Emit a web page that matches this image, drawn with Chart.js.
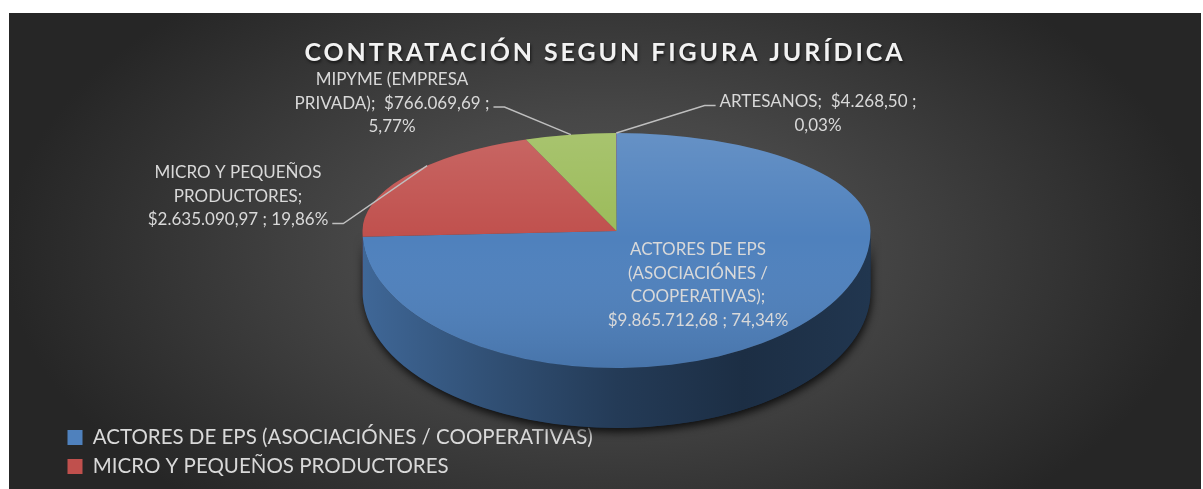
<!DOCTYPE html>
<html><head><meta charset="utf-8">
<script src="https://cdn.jsdelivr.net/npm/chart.js@4.4.1/dist/chart.umd.min.js"></script>
<style>
html,body{margin:0;padding:0;background:#fff;}
#wrap{position:absolute;left:9px;top:13px;width:1192px;height:476px;
 background: radial-gradient(600px 340px at 50% 50%, #565656 0%, #474747 40%, #262626 100%);}
canvas{display:block;}
</style></head><body>
<div id="wrap"><canvas id="c" width="1192" height="476"></canvas></div>
<script>
// ---- data ----
const chartTitle = 'CONTRATACIÓN SEGUN FIGURA JURÍDICA';
const categories = ['ACTORES DE EPS (ASOCIACIÓNES / COOPERATIVAS)', 'MICRO Y PEQUEÑOS PRODUCTORES', 'MIPYME (EMPRESA PRIVADA)', 'ARTESANOS'];
const amounts = [9865712.68, 2635090.97, 766069.69, 4268.50];
const sliceColors = ['#4F81BD', '#C0504D', '#9BBB59', '#8064A2'];
const legendShownCount = 2; // the original legend is cut off after two entries

// ---- layout ----
const PIE = { cx: 607.5, cy: 218, rx: 254, ryBack: 98, ryFront: 137, depth: 60 };
const LABEL_FONT = '17px Lato';
const LABEL_LINE = 23.5;
const WRAP_WIDTH = 200;
const labelPlacement = [
  { x: 689, y: 237, leader: false },
  { x: 229, y: 160, leader: true, side: 'left' },
  { x: 383, y: 67, leader: true, side: 'left' },
  { x: 809, y: 89, leader: true, side: 'right' }
];

function fmtMoney(v) {
  const [i, d] = v.toFixed(2).split('.');
  return '$' + i.replace(/\B(?=(\d{3})+(?!\d))/g, '.') + ',' + d;
}
function fmtPct(f) { return (f * 100).toFixed(2).replace('.', ',') + '%'; }
function shade(hex, f) {
  const n = parseInt(hex.slice(1), 16);
  const r = (n >> 16) & 255, g = (n >> 8) & 255, b = n & 255;
  return `rgb(${Math.round(r * f)},${Math.round(g * f)},${Math.round(b * f)})`;
}
function wrapText(ctx, text, maxW) {
  const words = text.split(' ');
  const lines = [];
  let line = '';
  words.forEach(w => {
    const test = line === '' ? w : line + ' ' + w;
    if (line !== '' && w !== '' && ctx.measureText(test.trim()).width > maxW) {
      lines.push(line.trim());
      line = w;
    } else line = test;
  });
  if (line.trim()) lines.push(line.trim());
  return lines;
}
function frontSegments(s, e) {
  const out = [];
  for (let k = -2; k <= 2; k++) {
    const lo = 2 * Math.PI * k, hi = lo + Math.PI;
    const a = Math.max(s, lo), b = Math.min(e, hi);
    if (b > a) out.push([a - lo, b - lo]);
  }
  return out;
}
// perspective: the far half of the top face is flatter than the near half
function ryAt(t) { return Math.sin(t) < 0 ? PIE.ryBack : PIE.ryFront; }
function facePoint(t, R) { return [PIE.cx + R * Math.cos(t), PIE.cy + ryAt(t) * Math.sin(t)]; }
function arcMidParam(s, e, R) {
  const N = 400, f = t => Math.hypot(R * Math.sin(t), ryAt(t) * Math.cos(t));
  const cum = [0];
  let tot = 0;
  for (let k = 0; k < N; k++) { tot += f(s + (e - s) * (k + 0.5) / N); cum.push(tot); }
  const half = tot / 2;
  for (let k = 0; k < N; k++) {
    if (cum[k + 1] >= half) return s + (e - s) * (k + (half - cum[k]) / (cum[k + 1] - cum[k])) / N;
  }
  return (s + e) / 2;
}
function facePath(ctx, R) {
  ctx.beginPath();
  ctx.ellipse(PIE.cx, PIE.cy, R, PIE.ryFront, 0, 0, Math.PI, false);
  ctx.ellipse(PIE.cx, PIE.cy, R, PIE.ryBack, 0, Math.PI, 2 * Math.PI, false);
  ctx.closePath();
}

const titleStyle = {
  id: 'titleStyle',
  afterInit(chart) {
    const tb = chart.titleBlock;
    if (!tb) return;
    const orig = tb.draw.bind(tb);
    tb.draw = function (area) {
      const c = chart.ctx;
      c.save();
      c.translate(chart.width / 2 - (tb.left + tb.right) / 2, 0); // centre over the whole chart
      c.letterSpacing = '2.9px';
      c.shadowColor = 'rgba(0,0,0,0.6)';
      c.shadowBlur = 3; c.shadowOffsetX = 1; c.shadowOffsetY = 2;
      orig(area);
      c.restore();
    };
  }
};

function squash(ctx, arc, ry) {
  ctx.translate(PIE.cx, PIE.cy);
  ctx.scale(1, ry / arc.outerRadius);
  ctx.translate(-arc.x, -arc.y);
}

const pie3d = {
  id: 'pie3d',
  beforeDatasetsDraw(chart) {
    const ctx = chart.ctx;
    const arcs = chart.getDatasetMeta(0).data;
    const R = arcs[0].outerRadius, ry = PIE.ryFront, cx = PIE.cx, cy = PIE.cy, D = PIE.depth;
    // drop shadow under the body
    ctx.save();
    ctx.beginPath();
    ctx.ellipse(cx, cy, R, ry, 0, 0, Math.PI, false);
    ctx.ellipse(cx, cy + D, R, ry, 0, Math.PI, 0, true);
    ctx.closePath();
    ctx.shadowColor = 'rgba(0,0,0,0.8)';
    ctx.shadowBlur = 9; ctx.shadowOffsetY = 4; ctx.shadowOffsetX = 1;
    ctx.fillStyle = '#1b2e4a';
    ctx.fill();
    ctx.restore();
    // side walls of each slice
    arcs.forEach((arc, i) => {
      frontSegments(arc.startAngle, arc.endAngle).forEach(([a, b]) => {
        const base = sliceColors[i % sliceColors.length];
        const g = ctx.createLinearGradient(cx - R, 0, cx + R, 0);
        g.addColorStop(0, shade(base, 0.8));
        g.addColorStop(0.25, shade(base, 0.62));
        g.addColorStop(0.5, shade(base, 0.46));
        g.addColorStop(0.75, shade(base, 0.36));
        g.addColorStop(1, shade(base, 0.42));
        ctx.beginPath();
        ctx.ellipse(cx, cy, R, ry, 0, a, b, false);
        ctx.ellipse(cx, cy + D, R, ry, 0, b, a, true);
        ctx.closePath();
        ctx.fillStyle = g;
        ctx.fill();
      });
    });
    // far half of the top face (library draws the slices)
    ctx.save();
    ctx.beginPath();
    ctx.rect(0, 0, chart.width, cy);
    ctx.clip();
    squash(ctx, arcs[0], PIE.ryBack);
  },
  afterDatasetsDraw(chart) {
    const ctx = chart.ctx;
    ctx.restore();
    const meta = chart.getDatasetMeta(0);
    const arcs = meta.data;
    const R = arcs[0].outerRadius, cx = PIE.cx, cy = PIE.cy;
    // near half of the top face
    ctx.save();
    ctx.beginPath();
    ctx.rect(0, cy, chart.width, chart.height - cy);
    ctx.clip();
    squash(ctx, arcs[0], PIE.ryFront);
    meta.controller.draw();
    ctx.restore();
    // light on the top face
    ctx.save();
    facePath(ctx, R);
    ctx.clip();
    const g = ctx.createLinearGradient(0, cy - PIE.ryBack, 0, cy + PIE.ryFront);
    g.addColorStop(0, 'rgba(255,255,255,0.13)');
    g.addColorStop(0.45, 'rgba(255,255,255,0.0)');
    g.addColorStop(1, 'rgba(0,0,0,0.1)');
    ctx.fillStyle = g;
    ctx.fillRect(cx - R, cy - PIE.ryBack, 2 * R, PIE.ryBack + PIE.ryFront);
    ctx.restore();
    // data labels
    const total = amounts.reduce((a, b) => a + b, 0);
    ctx.save();
    ctx.font = LABEL_FONT;
    ctx.textAlign = 'center';
    ctx.textBaseline = 'middle';
    arcs.forEach((arc, i) => {
      const p = labelPlacement[i];
      const text = `${categories[i]}; ${' ' + fmtMoney(amounts[i])} ; ${fmtPct(amounts[i] / total)}`;
      const lines = wrapText(ctx, text, WRAP_WIDTH);
      ctx.fillStyle = '#d9d9d9';
      lines.forEach((ln, j) => ctx.fillText(ln, p.x, p.y + j * LABEL_LINE));
      if (p.leader) {
        let jl = 0, wl = 0;
        lines.forEach((ln, j) => { const w = ctx.measureText(ln).width; if (w > wl) { wl = w; jl = j; } });
        const [ax, ay] = facePoint(arcMidParam(arc.startAngle, arc.endAngle, R), R);
        const dir = p.side === 'left' ? 1 : -1;
        const x0 = p.x + dir * (wl / 2 + 4), y0 = p.y + jl * LABEL_LINE + 3.5;
        const x1 = x0 + dir * 11;
        ctx.beginPath();
        ctx.moveTo(x0, y0);
        ctx.lineTo(x1, y0);
        ctx.lineTo(ax, ay);
        ctx.strokeStyle = '#bfbfbf';
        ctx.lineWidth = 1.4;
        ctx.stroke();
      }
    });
    ctx.restore();
  }
};

new Chart(document.getElementById('c'), {
  type: 'pie',
  data: {
    labels: categories,
    datasets: [{ data: amounts, backgroundColor: sliceColors, borderWidth: 0, radius: PIE.rx, clip: false }]
  },
  options: {
    responsive: false,
    animation: false,
    events: [],
    layout: { padding: { left: 50, right: 0, top: 0, bottom: 3.75 } },
    plugins: {
      title: {
        display: true, text: chartTitle, color: '#f2f2f2',
        font: { family: 'Lato', size: 25, weight: 'bold' },
        padding: { top: 25, bottom: 10 }
      },
      legend: {
        position: 'left', align: 'end',
        labels: {
          color: '#d9d9d9', font: { family: 'Lato', size: 20.5 },
          boxWidth: 15, boxHeight: 15, padding: 8.5,
          filter: (item) => item.index < legendShownCount
        }
      },
      tooltip: { enabled: false }
    }
  },
  plugins: [titleStyle, pie3d]
});
</script>
</body></html>
